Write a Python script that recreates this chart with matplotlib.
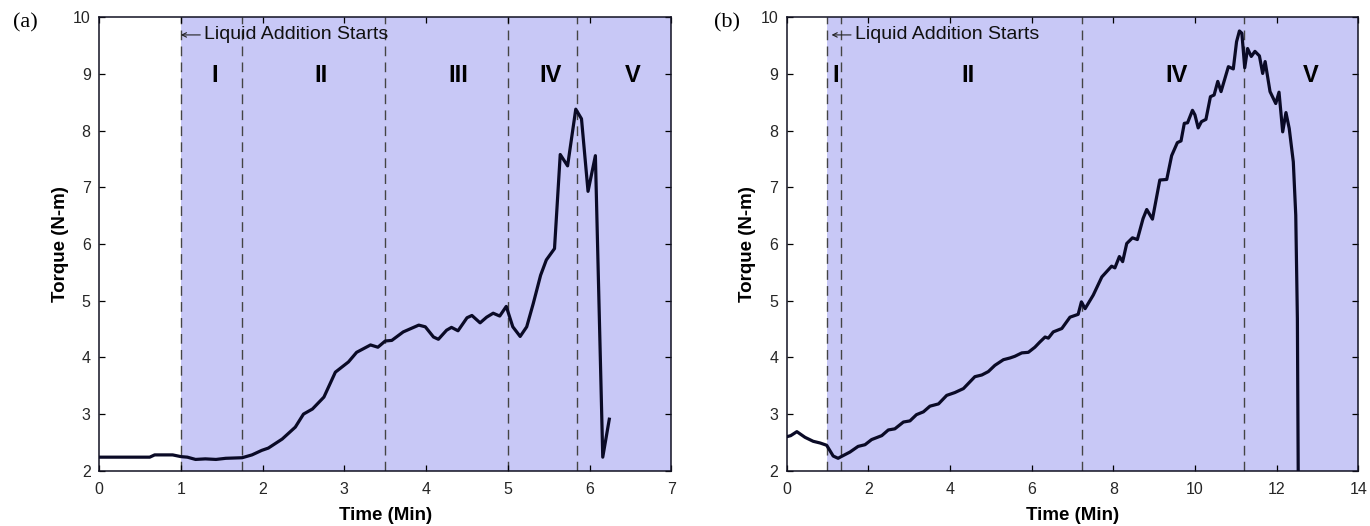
import numpy as np
import matplotlib
matplotlib.use("Agg")
import matplotlib.pyplot as plt

plt.rcParams['font.family'] = ['Liberation Sans', 'DejaVu Sans']

# torque curves
t_a = [0, 0.62, 0.68, 0.9, 1.0, 1.08, 1.18, 1.3, 1.43, 1.55, 1.75, 1.87, 1.99, 2.07, 2.24,
       2.40, 2.50, 2.61, 2.75, 2.89, 3.05, 3.15, 3.32, 3.41, 3.50, 3.58, 3.72, 3.91, 3.99, 4.09,
       4.15, 4.25, 4.31, 4.39, 4.50, 4.56, 4.66, 4.74, 4.82, 4.90, 4.98, 5.06, 5.15, 5.23, 5.31,
       5.40, 5.47, 5.57, 5.64, 5.73, 5.83, 5.90, 5.98, 6.07, 6.16, 6.24]
torque_a = [2.24, 2.24, 2.28, 2.28, 2.25, 2.24, 2.20, 2.21, 2.20, 2.22, 2.23, 2.28, 2.36, 2.40, 2.56,
            2.77, 3.0, 3.09, 3.30, 3.74, 3.92, 4.09, 4.22, 4.18, 4.29, 4.30, 4.45, 4.57, 4.54, 4.36,
            4.32, 4.48, 4.53, 4.47, 4.70, 4.74, 4.61, 4.71, 4.78, 4.73, 4.90, 4.54, 4.37, 4.54, 4.95,
            5.45, 5.72, 5.92, 7.58, 7.38, 8.38, 8.21, 6.93, 7.56, 2.24, 2.91]

t_b = [0, 0.1, 0.25, 0.45, 0.65, 0.82, 0.98, 1.14, 1.26, 1.31,
       1.55, 1.75, 1.92, 2.08, 2.33, 2.49, 2.65, 2.86, 3.02, 3.18,
       3.35, 3.51, 3.72, 3.92, 4.12, 4.33, 4.61, 4.78, 4.94, 5.10,
       5.31, 5.47, 5.59, 5.76, 5.92, 6.08, 6.20, 6.33, 6.41, 6.53,
       6.74, 6.94, 7.14, 7.22, 7.31, 7.51, 7.72, 7.96, 8.04, 8.15,
       8.23, 8.33, 8.47, 8.59, 8.73, 8.82, 8.96, 9.14, 9.31, 9.43,
       9.57, 9.66, 9.74, 9.82, 9.94, 10.0, 10.08, 10.16, 10.27, 10.38,
       10.47, 10.56, 10.64, 10.82, 10.94, 11.02, 11.09, 11.15, 11.22, 11.29,
       11.38, 11.47, 11.58, 11.66, 11.72, 11.84, 11.98, 12.06, 12.15, 12.23,
       12.31, 12.41, 12.47, 12.51, 12.53]
torque_b = [2.60, 2.62, 2.69, 2.59, 2.52, 2.49, 2.45, 2.26, 2.22, 2.24,
            2.33, 2.43, 2.46, 2.55, 2.62, 2.72, 2.74, 2.86, 2.88, 2.99,
            3.04, 3.14, 3.18, 3.33, 3.38, 3.45, 3.66, 3.69, 3.75, 3.86,
            3.96, 3.99, 4.02, 4.08, 4.09, 4.18, 4.27, 4.36, 4.34, 4.45,
            4.51, 4.71, 4.76, 4.98, 4.86, 5.10, 5.42, 5.61, 5.58, 5.78,
            5.69, 6.01, 6.11, 6.08, 6.45, 6.61, 6.44, 7.13, 7.14, 7.56,
            7.79, 7.82, 8.13, 8.14, 8.36, 8.28, 8.05, 8.16, 8.20, 8.60,
            8.63, 8.87, 8.69, 9.13, 9.09, 9.57, 9.76, 9.72, 9.11, 9.45,
            9.31, 9.40, 9.32, 9.01, 9.22, 8.69, 8.48, 8.68, 7.98, 8.32,
            8.04, 7.45, 6.51, 4.68, 2.0]

# stage boundaries and labels
bounds_a = [1.0, 1.75, 3.5, 5.0, 5.85]
stages_a = ['I', 'II', 'III', 'IV', 'V']
stage_x_a = [1.41, 2.71, 4.39, 5.52, 6.53]

bounds_b = [1.0, 1.33, 7.23, 11.21]
stages_b = ['I', 'II', 'IV', 'V']
stage_x_b = [1.2, 4.45, 9.56, 12.84]

shade = '#c8c8f6'
curve = '#0a0a26'

fig = plt.figure(figsize=(13.7, 5.26), dpi=100)
ax1 = fig.add_axes([0.0723, 0.105, 0.4178, 0.862])
ax2 = fig.add_axes([0.5742, 0.105, 0.4172, 0.862])


def panel(ax, t, y, bounds, stages, stage_x, xmax, xticks, txt_x):
    ax.axvspan(1.0, xmax, color=shade, lw=0, zorder=0)
    for b in bounds:
        ax.axvline(b, color='#444444', lw=1.0, ls=(0, (7, 4.5)), zorder=1)
    ax.plot(t, y, color=curve, lw=2.3, zorder=3, solid_joinstyle='round')
    for s, sx in zip(stages, stage_x):
        ax.text(sx, 8.98, s, ha='center', va='center', fontsize=17, fontweight='bold')
    # arrow + note where the liquid feed begins
    ax.annotate('', xy=(txt_x, 9.69), xytext=(14, 0), textcoords='offset points',
                arrowprops=dict(arrowstyle='->', color='#222222', lw=0.8,
                                shrinkA=0, shrinkB=0, mutation_scale=8))
    ax.annotate('Liquid Addition Starts', xy=(txt_x, 9.69), xytext=(17, 0),
                textcoords='offset points', ha='left', va='center',
                fontsize=14, color='#111111')
    ax.set_xlim(0, xmax)
    ax.set_ylim(2, 10)
    ax.set_xticks(xticks)
    ax.set_yticks(range(2, 11))
    ax.tick_params(direction='in', length=4, width=0.9, top=True, right=True,
                   labelsize=11.5, labelcolor='#262626', pad=6)
    ax.tick_params(axis='x', pad=8)
    for sp in ax.spines.values():
        sp.set_linewidth(1.1)
        sp.set_color('#111122')
    ax.set_xlabel('Time (Min)', fontsize=13.5, fontweight='bold', labelpad=7)
    ax.set_ylabel('Torque (N-m)', fontsize=13.5, fontweight='bold', labelpad=3)


panel(ax1, t_a, torque_a, bounds_a, stages_a, stage_x_a, 7, range(0, 8), 1.0)
panel(ax2, t_b, torque_b, bounds_b, stages_b, stage_x_b, 14, range(0, 15, 2), 1.1)

fig.text(25 / 1370, 1 - 23 / 526, '(a)', ha='center', va='center', fontsize=16,
         family='Liberation Serif')
fig.text(727 / 1370, 1 - 23 / 526, '(b)', ha='center', va='center', fontsize=16,
         family='Liberation Serif')

fig.savefig('out.png', dpi=100)
